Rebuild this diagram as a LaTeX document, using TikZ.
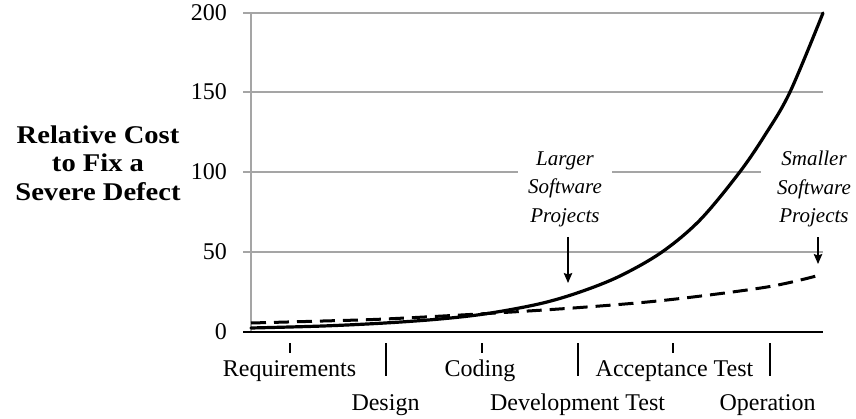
\documentclass[tikz,border=0pt]{standalone}
\usepackage{fontspec}
\setmainfont{Liberation Serif}
\newfontfamily\headfont[FakeStretch=1.12]{Liberation Serif}
\usetikzlibrary{arrows.meta}
\definecolor{gridgray}{RGB}{165,165,165}

\begin{document}
\begin{tikzpicture}[x=1pt, y=-1pt,
  gridline/.style={draw=gridgray, line width=1.5pt},
  axisline/.style={draw=black, line width=1.6pt},
  tickmark/.style={draw=black, line width=1.6pt},
  valuelabel/.style={anchor=east, inner sep=0pt, font=\fontsize{24}{28}\selectfont},
  phaselabel/.style={anchor=base, inner sep=0pt, font=\fontsize{24}{28}\selectfont},
  note/.style={align=center, fill=white, inner ysep=3pt,
    font=\fontsize{21}{28.5}\selectfont\itshape},
  costcurve/.style={draw=black, line width=3.2pt, line cap=round, line join=round},
  smallcurve/.style={draw=black, line width=3pt, dash pattern=on 15pt off 8pt},
  pointer/.style={draw=black, line width=1.5pt,
    -{Stealth[length=10pt, width=8.5pt, inset=1.5pt]}}
]
\useasboundingbox (0,0) rectangle (856,419);

% horizontal grid with its value labels (1.6 units per cost point, zero at 332)
\foreach \v/\y in {50/252, 100/172, 150/92, 200/13}{
  \draw[gridline] (243,\y) -- (823,\y);
  \node[valuelabel] (v\v) at (227,\y) {\v};
}
\node[valuelabel] (v0) at (227,332) {0};

% axes
\draw[gridline] (251,13) -- (251,332);
\draw[axisline] (243,332) -- (823,332);

% phase ticks: short ones over the phase names of the first row,
% long ones between phases
\foreach \x in {290,482,673}{ \draw[tickmark] (\x,343) -- (\x,353); }
\foreach \x in {386,578,770}{ \draw[tickmark] (\x,343) -- (\x,376); }

% phase names
\node[phaselabel] (req)  at (289.5,376) {Requirements};
\node[phaselabel] (code) at (480,376)   {Coding};
\node[phaselabel] (acc)  at (674.5,376) {Acceptance Test};
\node[phaselabel] (des)  at (385.5,410) {Design};
\node[phaselabel] (dev)  at (577.5,410) {Development Test};
\node[phaselabel] (ops)  at (767.5,410) {Operation};

% y-axis title
\node[align=center, inner sep=0pt, font=\fontsize{25.5}{28.7}\selectfont\headfont\bfseries]
  (ytitle) at (98,163) {Relative Cost\\to Fix a\\Severe Defect};

% curve annotations
\node[note, inner xsep=10pt] (large) at (565,189) {Larger\\Software\\Projects};
\node[note, inner xsep=16pt] (small) at (814,189) {Smaller\\Software\\Projects};

% cost curves: steep growth for large projects, gentle rise for small ones
\draw[costcurve] plot[smooth, tension=0.55] coordinates {
  (251,328) (323,326) (385,323) (440,319) (487,313.6) (540,303.7)
  (580,292) (620,276) (662,252) (700,220) (739,173) (765,135)
  (790,92) (823,13)};
\draw[smallcurve] plot[smooth, tension=0.55] coordinates {
  (251,323) (323,321) (385,319) (487,313.5) (580,307.5)
  (667,300) (767,287) (820,275)};

% arrows from the annotations to the curves
\coordinate (largetip) at (568,283);
\coordinate (smalltip) at (818,264);
\draw[pointer] ([yshift=-7pt]largetip |- large.south) -- (largetip);
\draw[pointer] ([yshift=-7pt]smalltip |- small.south) -- (smalltip);
\end{tikzpicture}
\end{document}
